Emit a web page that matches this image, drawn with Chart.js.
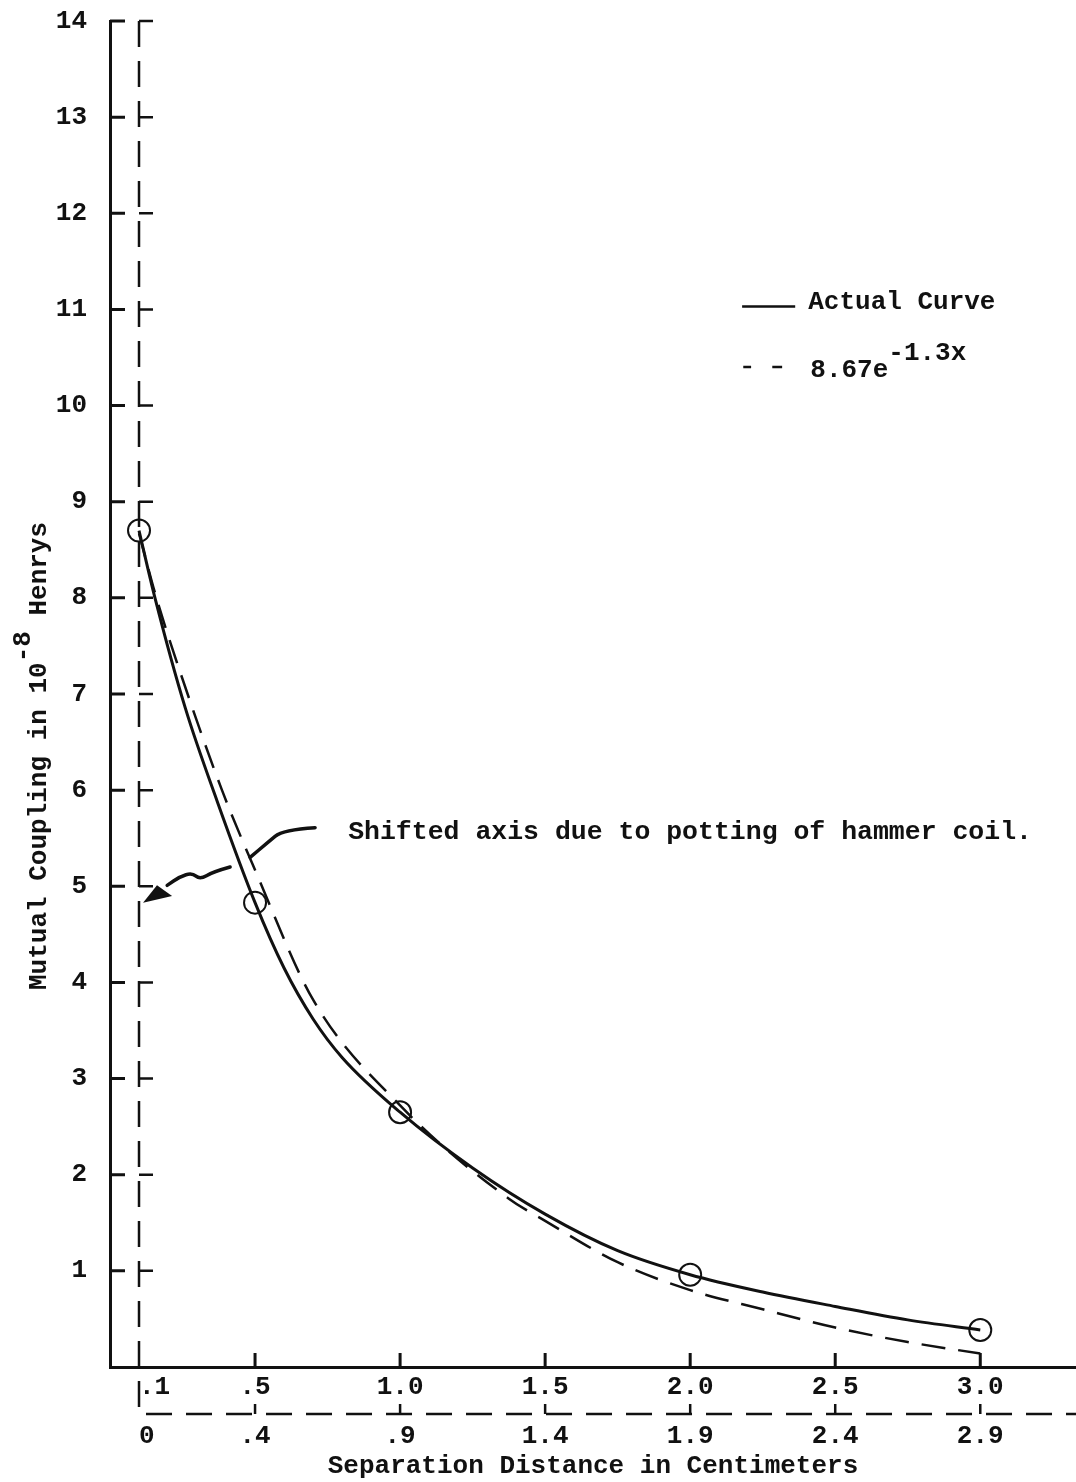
<!DOCTYPE html>
<html>
<head>
<meta charset="utf-8">
<script src="https://cdn.jsdelivr.net/npm/chart.js@4.4.1/dist/chart.umd.min.js"></script>
<style>
html, body { margin: 0; padding: 0; background: #fff; overflow: hidden; }
canvas { display: block; }
</style>
</head>
<body>
<canvas id="myChart" width="1076" height="1482"></canvas>
<script>
// measured points (circles)
var pointX = [0.1, 0.5, 1.0, 2.0, 3.0];
var pointY = [8.7, 4.83, 2.65, 0.96, 0.385];

// actual curve
var actualX = [0.1, 0.155, 0.26, 0.37, 0.5, 0.6, 0.7, 0.8, 1.0, 1.25, 1.5, 1.75, 2.0, 2.25, 2.5, 2.75, 3.0];
var actualY = [8.7, 8.0, 6.85, 5.88, 4.83, 4.15, 3.62, 3.22, 2.65, 2.07, 1.59, 1.21, 0.96, 0.78, 0.63, 0.49, 0.385];

// dashed fit 8.67e^-1.3x
var fitX = [0.1, 0.16, 0.245, 0.386, 0.5, 0.7, 1.0, 1.375, 1.5, 1.75, 2.0, 2.25, 2.5, 2.75, 3.0];
var fitY = [8.67, 8.0, 7.2, 6.0, 5.17, 3.82, 2.72, 1.75, 1.52, 1.09, 0.80, 0.60, 0.41, 0.26, 0.14];

var xTickValues = [0.1, 0.5, 1.0, 1.5, 2.0, 2.5, 3.0];
var xTickLabels = ['  .1', '.5', '1.0', '1.5', '2.0', '2.5', '3.0'];
var shiftedTickLabels = [' 0', '.4', '.9', '1.4', '1.9', '2.4', '2.9'];
var yTickValues = [0, 1, 2, 3, 4, 5, 6, 7, 8, 9, 10, 11, 12, 13, 14];

var FONT = '"Liberation Mono", monospace';
var INK = '#111';

function toPoints(xs, ys) {
    return xs.map(function (x, i) { return { x: x, y: ys[i] }; });
}

function smoothPath(ctx, pts) {
    ctx.moveTo(pts[0][0], pts[0][1]);
    for (var i = 1; i < pts.length - 1; i++) {
        var mx = (pts[i][0] + pts[i + 1][0]) / 2;
        var my = (pts[i][1] + pts[i + 1][1]) / 2;
        ctx.quadraticCurveTo(pts[i][0], pts[i][1], mx, my);
    }
    var last = pts[pts.length - 1];
    ctx.lineTo(last[0], last[1]);
}

// keep the plot area fixed: no automatic label padding
function noPad(s) {
    s.paddingLeft = 0; s.paddingRight = 0; s.paddingTop = 0; s.paddingBottom = 0;
}

// axis decorations, legend, notes
var decor = {
    id: 'decor',
    afterDraw: function (chart) {
        var ctx = chart.ctx;
        var xs = chart.scales.x, ys = chart.scales.y;
        var px = function (v) { return xs.getPixelForValue(v); };
        var py = function (v) { return ys.getPixelForValue(v); };
        var i;
        ctx.save();
        ctx.strokeStyle = INK;
        ctx.fillStyle = INK;

        // inward ticks on the main axes
        ctx.lineWidth = 3;
        ctx.beginPath();
        for (i = 1; i < yTickValues.length; i++) {
            ctx.moveTo(xs.left, py(yTickValues[i]));
            ctx.lineTo(xs.left + 15, py(yTickValues[i]));
        }
        for (i = 1; i < xTickValues.length; i++) {
            ctx.moveTo(px(xTickValues[i]), ys.bottom);
            ctx.lineTo(px(xTickValues[i]), ys.bottom - 14);
        }
        ctx.stroke();

        // shifted (dashed) axes
        var sx = px(0.1), sy = ys.bottom + 47;
        ctx.lineWidth = 2.5;
        ctx.setLineDash([26, 14]);
        ctx.beginPath();
        ctx.moveTo(sx, py(14));
        ctx.lineTo(sx, sy);
        ctx.lineTo(chart.width, sy);
        ctx.stroke();
        ctx.setLineDash([]);
        ctx.beginPath();
        for (i = 1; i < yTickValues.length; i++) {
            ctx.moveTo(sx, py(yTickValues[i]));
            ctx.lineTo(sx + 14, py(yTickValues[i]));
        }
        for (i = 1; i < xTickValues.length; i++) {
            ctx.moveTo(px(xTickValues[i]), sy);
            ctx.lineTo(px(xTickValues[i]), sy - 10);
        }
        ctx.stroke();

        // y axis title with superscript
        ctx.save();
        ctx.translate(39, 990);
        ctx.rotate(-Math.PI / 2);
        ctx.font = 'bold 26px ' + FONT;
        ctx.textAlign = 'left';
        ctx.textBaseline = 'middle';
        var t1 = 'Mutual Coupling in 10';
        ctx.fillText(t1, 0, 0);
        var w1 = ctx.measureText(t1).width;
        ctx.fillText('-8', w1, -16);
        var w2 = ctx.measureText('-8').width;
        ctx.fillText(' Henrys', w1 + w2, 0);
        ctx.restore();

        // legend
        ctx.font = 'bold 26px ' + FONT;
        ctx.textAlign = 'left';
        ctx.textBaseline = 'middle';
        ctx.lineWidth = 2.5;
        ctx.beginPath();
        ctx.moveTo(px(2.179), py(11.03));
        ctx.lineTo(px(2.362), py(11.03));
        ctx.moveTo(px(2.183), py(10.40));
        ctx.lineTo(px(2.210), py(10.40));
        ctx.moveTo(px(2.283), py(10.40));
        ctx.lineTo(px(2.317), py(10.40));
        ctx.stroke();
        ctx.fillText('Actual Curve', px(2.407), py(11.07));
        var f1 = '8.67e';
        ctx.fillText(f1, px(2.414), py(10.37));
        ctx.fillText('-1.3x', px(2.414) + ctx.measureText(f1).width, py(10.37) - 17);

        // note with wavy arrow
        ctx.font = 'bold 26.5px ' + FONT;
        ctx.fillText('Shifted axis due to potting of hammer coil.', px(0.821), py(5.565));
        var toPx = function (p) { return [px(p[0]), py(p[1])]; };
        var arrowA = [[0.707, 5.61], [0.597, 5.59], [0.541, 5.45], [0.483, 5.30]].map(toPx);
        var arrowB = [[0.414, 5.20], [0.355, 5.15], [0.310, 5.07], [0.283, 5.14], [0.241, 5.10], [0.197, 5.01]].map(toPx);
        ctx.lineWidth = 3.5;
        ctx.lineCap = 'round';
        ctx.beginPath();
        smoothPath(ctx, arrowA);
        ctx.stroke();
        ctx.beginPath();
        smoothPath(ctx, arrowB);
        ctx.stroke();
        var head = [[0.114, 4.83], [0.162, 5.01], [0.214, 4.90]].map(toPx);
        ctx.beginPath();
        ctx.moveTo(head[0][0], head[0][1]);
        ctx.lineTo(head[1][0], head[1][1]);
        ctx.lineTo(head[2][0], head[2][1]);
        ctx.closePath();
        ctx.fill();
        ctx.restore();
    }
};

var tickFont = { family: FONT, size: 26, weight: 'bold' };

var chart = new Chart('myChart', {
    type: 'scatter',
    data: {
        datasets: [{
            label: 'Actual Curve',
            data: toPoints(actualX, actualY),
            showLine: true,
            borderColor: INK,
            borderWidth: 3,
            pointRadius: 0,
            cubicInterpolationMode: 'monotone'
        }, {
            label: '8.67e-1.3x',
            data: toPoints(fitX, fitY),
            showLine: true,
            borderColor: INK,
            borderWidth: 2.5,
            borderDash: [24, 13],
            pointRadius: 0,
            cubicInterpolationMode: 'monotone'
        }, {
            label: 'Measured',
            data: toPoints(pointX, pointY),
            showLine: false,
            borderColor: INK,
            backgroundColor: 'rgba(0,0,0,0)',
            pointRadius: 11,
            pointBorderWidth: 2
        }]
    },
    options: {
        responsive: false,
        animation: false,
        layout: { autoPadding: false, padding: { top: 21, right: 0, bottom: 0, left: 0 } },
        plugins: { legend: { display: false }, tooltip: { enabled: false } },
        scales: {
            x: {
                type: 'linear', position: 'bottom', min: 0, max: 3.33,
                afterBuildTicks: function (s) { s.ticks = xTickValues.map(function (v) { return { value: v }; }); },
                afterFit: function (s) { s.height = 47; noPad(s); },
                ticks: {
                    callback: function (v, i) { return xTickLabels[i]; },
                    font: tickFont, color: INK, padding: 5, maxRotation: 0, autoSkip: false
                },
                grid: { display: false, drawTicks: false },
                border: { display: true, color: INK, width: 3 }
            },
            x2: {
                type: 'linear', position: 'bottom', min: 0, max: 3.33,
                afterBuildTicks: function (s) { s.ticks = xTickValues.map(function (v) { return { value: v }; }); },
                afterFit: function (s) { s.height = 68; noPad(s); },
                ticks: {
                    callback: function (v, i) { return shiftedTickLabels[i]; },
                    font: tickFont, color: INK, padding: 7, maxRotation: 0, autoSkip: false
                },
                grid: { display: false, drawTicks: false },
                border: { display: false },
                title: {
                    display: true, text: 'Separation Distance in Centimeters',
                    font: { family: FONT, size: 26, weight: 'bold' }, color: INK, padding: 0
                }
            },
            y: {
                min: 0, max: 14,
                afterBuildTicks: function (s) { s.ticks = yTickValues.map(function (v) { return { value: v }; }); },
                afterFit: function (s) { s.width = 110; noPad(s); },
                ticks: {
                    callback: function (v) { return v === 0 ? '' : String(v); },
                    font: tickFont, color: INK, padding: 23
                },
                grid: { display: false, drawTicks: false },
                border: { display: true, color: INK, width: 3 }
            }
        }
    },
    plugins: [decor]
});
</script>
</body>
</html>
